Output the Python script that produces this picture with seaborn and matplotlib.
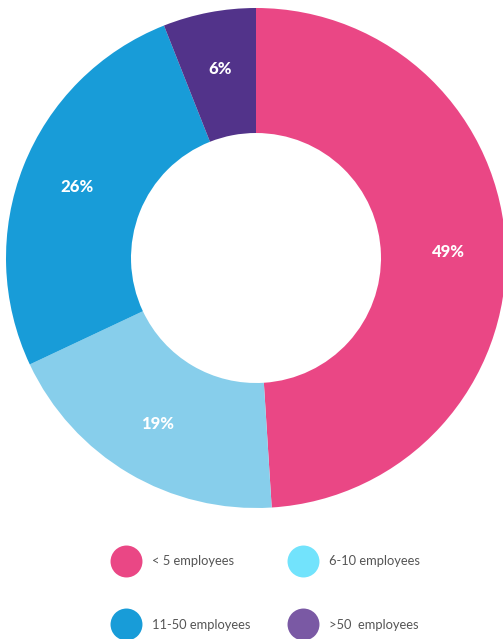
import matplotlib
matplotlib.use("Agg")
import matplotlib.pyplot as plt
from matplotlib.lines import Line2D
import seaborn as sns

# Company size distribution
categories = ["< 5 employees", "6-10 employees", "11-50 employees", ">50  employees"]
shares = [49, 19, 26, 6]
slice_colors = ["#EA4785", "#87CEEB", "#189CD8", "#52338A"]
legend_colors = ["#EA4785", "#72E3FC", "#189CD8", "#7A59A4"]

sns.set_theme(style="white")
plt.rcParams["font.family"] = ["Lato", "DejaVu Sans"]

fig = plt.figure(figsize=(5.03, 6.39), dpi=100)
ax = fig.add_axes([6 / 503, 1 - 508 / 639, 500 / 503, 500 / 639])

wedges, _, autotexts = ax.pie(
    shares,
    colors=slice_colors,
    startangle=90,
    counterclock=False,
    radius=1.0,
    wedgeprops=dict(width=0.5, linewidth=0),
    autopct=lambda p: f"{p:.0f}%",
    pctdistance=0.77,
    textprops=dict(color="white", fontsize=12, fontweight="black"),
)
ax.set_xlim(-1, 1)
ax.set_ylim(-1, 1)
ax.set_aspect("equal")
ax.axis("off")

# Legend: round swatches in a 2 x 2 grid (row-wise order)
handles = [
    Line2D([], [], linestyle="none", marker="o", markersize=23,
           markerfacecolor=c, markeredgewidth=0)
    for c in legend_colors
]
order = [0, 2, 1, 3]
leg = fig.legend(
    [handles[i] for i in order],
    [categories[i] for i in order],
    ncol=2,
    frameon=False,
    loc="center left",
    bbox_to_anchor=(113 / 503, 1 - 593 / 639),
    fontsize=9.3,
    labelcolor="#555555",
    handlelength=2.0,
    handletextpad=1.05,
    columnspacing=3.0,
    labelspacing=3.95,
    borderpad=0,
    borderaxespad=0,
)

fig.savefig("out.png", dpi=100, facecolor="white")
